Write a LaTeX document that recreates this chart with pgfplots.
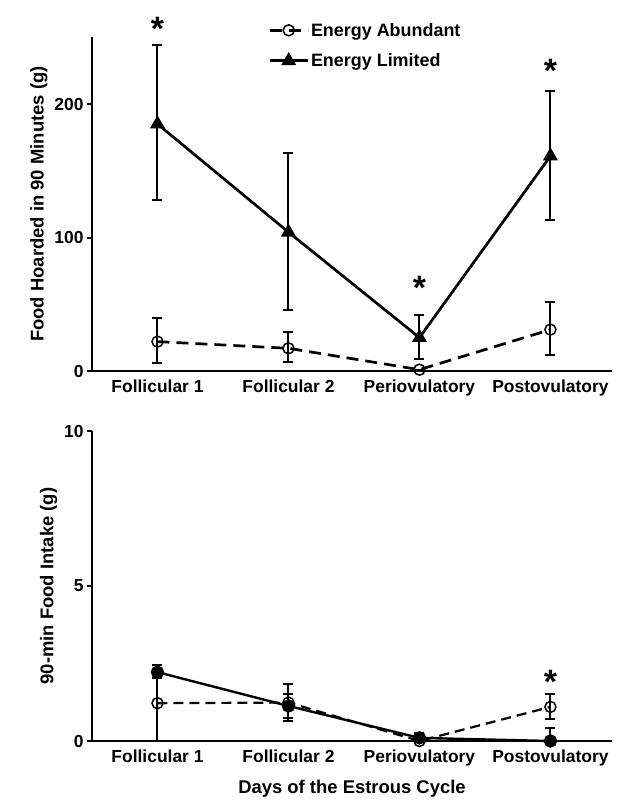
\documentclass[border=0pt]{standalone}
\usepackage{pgfplots}
\pgfplotsset{compat=1.18}
\usepackage{fontspec}
\setmainfont{Liberation Sans}
\begin{document}
\begin{tikzpicture}
\pgfplotsset{
  common/.style={
    scale only axis,
    width=520bp,
    xmin=-0.5, xmax=3.47,
    axis lines*=left,
    axis line style={line width=2.4bp, -},
    xtick={0,1,2,3},
    xticklabels={Follicular 1, Follicular 2, Periovulatory, Postovulatory},
    x tick style={draw=none},
    y tick style={line width=2bp, black},
    tick align=outside,
    major tick length=5bp,
    /pgf/number format/assume math mode=true,
    tick label style={font=\fontsize{17.5}{19}\selectfont\bfseries},
    label style={font=\fontsize{18.5}{20}\selectfont\bfseries},
    clip=false,
  },
  ebar/.style={error bars/.cd, y dir=both, y explicit,
    error bar style={solid, line width=2bp, black},
    error mark options={rotate=90, mark size=5bp, line width=2bp, black, solid}},
}
% ---------- top panel ----------
\begin{axis}[common,
  height=333.75bp,
  ymin=0, ymax=250,
  ytick={0,100,200},
  ylabel={Food Hoarded in 90 Minutes (g)},
  legend style={draw=none, fill=none, at={(0.333,1.055)}, anchor=north west,
    font=\fontsize{18}{20}\selectfont\bfseries, row sep=12bp,
    /tikz/every even column/.append style={column sep=3bp}},
  legend cell align=left,
  legend image code/.code={
    \draw[mark repeat=2, mark phase=2, #1] plot coordinates {(0bp,0bp) (19bp,0bp) (38bp,0bp)};
  },
]
\addplot[black, line width=2.7bp, dash pattern=on 12bp off 7bp,
  mark=o, mark size=5.5bp, mark options={solid, fill=white, line width=1.5bp},
  ebar]
  table[x=x, y=y, y error plus=ep, y error minus=em] {
x y ep em
0 22 18 16
1 17 12 10
2 1 0 0
3 31 21 19
};
\addlegendentry{Energy Abundant}
\addplot[black, line width=2.7bp,
  mark=triangle*, mark size=6bp, mark options={solid, fill=black},
  ebar]
  table[x=x, y=y, y error plus=ep, y error minus=em] {
x y ep em
0 185 59 57
1 104 59 58
2 25 17 16
3 161 49 48
};
\addlegendentry{Energy Limited}
\node[font=\fontsize{34}{34}\selectfont\bfseries] at (axis cs:0,256) {*};
\node[font=\fontsize{34}{34}\selectfont\bfseries] at (axis cs:2,62) {*};
\node[font=\fontsize{34}{34}\selectfont\bfseries] at (axis cs:3,225) {*};
\end{axis}
% ---------- bottom panel ----------
\begin{axis}[common,
  at={(0,-370bp)},
  height=310bp,
  ymin=0, ymax=10,
  ytick={0,5,10},
  ylabel={90-min Food Intake (g)},
  xlabel={Days of the Estrous Cycle},
  xlabel style={yshift=-8bp},
]
\addplot[black, line width=2.2bp, dash pattern=on 10bp off 6bp,
  mark=o, mark size=5.5bp, mark options={solid, fill=white, line width=1.5bp},
  ebar]
  table[x=x, y=y, y error plus=ep, y error minus=em] {
x y ep em
0 1.22 1.0 1.22
1 1.24 0.6 0.6
2 0.0 0.0 0.0
3 1.10 0.43 0.38
};
\addplot[black, line width=2.4bp,
  mark=*, mark size=5.5bp, mark options={solid, fill=black},
  ebar]
  table[x=x, y=y, y error plus=ep, y error minus=em] {
x y ep em
0 2.22 0.22 0.2
1 1.13 0.4 0.4
2 0.1 0.15 0.1
3 0.0 0.42 0.0
};
\node[font=\fontsize{34}{34}\selectfont\bfseries] at (axis cs:3,1.9) {*};
\end{axis}
\pgfresetboundingbox
\useasboundingbox (-92bp,-433bp) rectangle (525bp,371bp);
\end{tikzpicture}
\end{document}
